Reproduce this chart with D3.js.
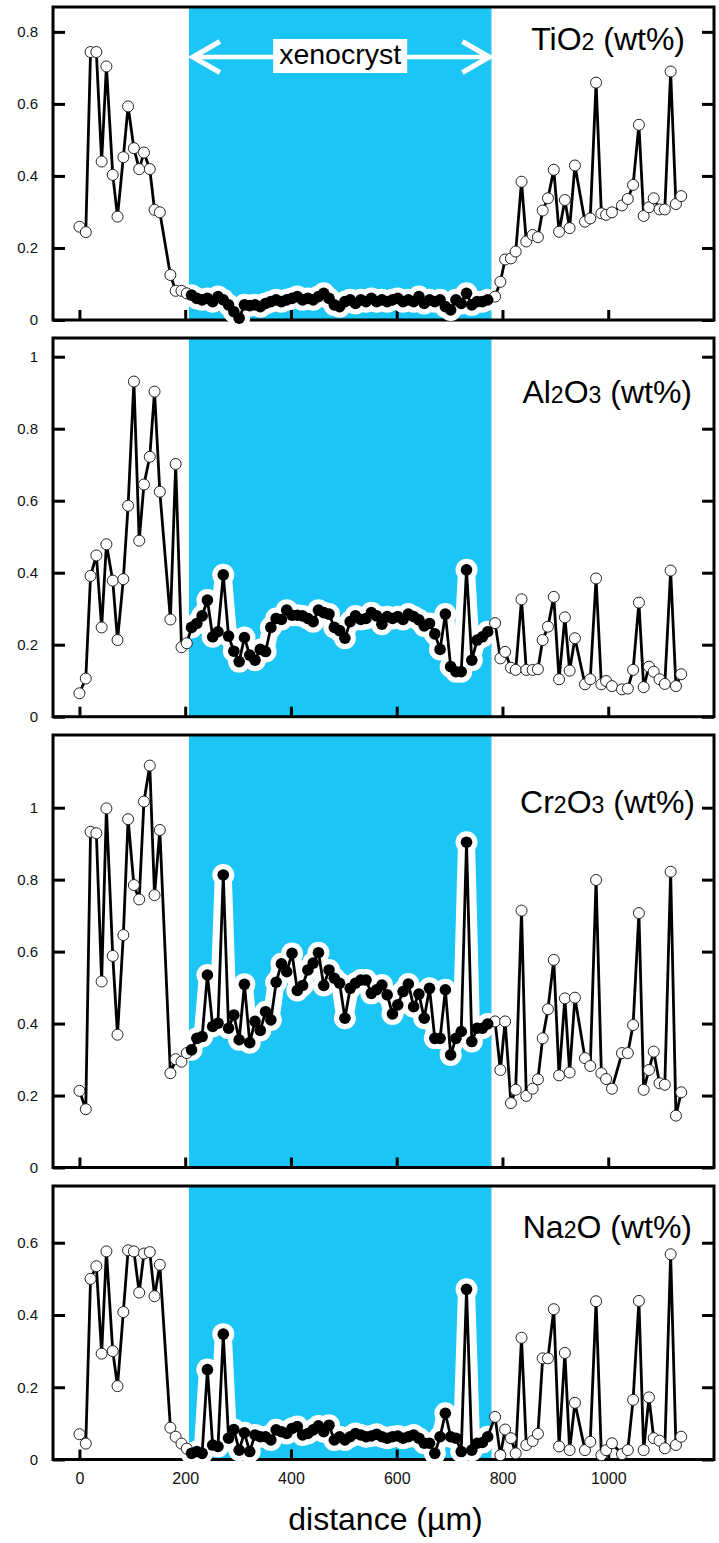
<!DOCTYPE html>
<html>
<head>
<meta charset="utf-8">
<script src="https://cdn.jsdelivr.net/npm/d3@7"></script>
<style>
  html, body { margin: 0; padding: 0; background: #fff; }
  svg { display: block; }
  text { font-family: "Liberation Sans", Arial, Helvetica, sans-serif; }
</style>
</head>
<body>
<svg id="chart" width="719" height="1543"></svg>
<script>
// ---------------- DATA ----------------
const distance = [0,12,21,32,42,51,63,72,83,92,103,113,122,133,142,152,172,182,193,203,
  212,222,232,242,252,262,272,282,292,302,312,322,332,342,352,362,372,382,392,402,412,422,432,442,452,462,472,482,492,502,512,522,532,542,552,562,572,582,592,602,612,622,632,642,652,662,672,682,692,702,712,722,732,742,752,762,772,
  786,796,805,816,825,836,845,857,867,876,886,897,907,918,927,937,956,966,977,987,996,1007,1026,1037,1047,1058,1067,1077,1086,1097,1107,1118,1128,1138];

const tio2 = [0.259,0.244,0.744,0.744,0.44,0.704,0.403,0.287,0.452,0.593,0.477,0.419,0.465,0.419,0.306,0.299,0.125,0.081,0.081,0.074,
  0.069,0.060,0.056,0.060,0.051,0.065,0.056,0.042,0.023,0.005,0.042,0.040,0.042,0.037,0.046,0.051,0.056,0.051,0.056,0.060,0.065,0.056,0.060,0.056,0.065,0.074,0.060,0.042,0.037,0.051,0.056,0.046,0.056,0.051,0.060,0.051,0.056,0.051,0.056,0.060,0.051,0.056,0.051,0.065,0.046,0.056,0.051,0.056,0.037,0.028,0.056,0.046,0.074,0.042,0.051,0.051,0.056,
  0.065,0.106,0.168,0.171,0.19,0.384,0.218,0.236,0.23,0.304,0.338,0.417,0.245,0.333,0.255,0.429,0.273,0.282,0.659,0.296,0.292,0.299,0.318,0.336,0.375,0.542,0.289,0.313,0.338,0.307,0.307,0.69,0.322,0.344];

const al2o3 = [0.065,0.106,0.391,0.448,0.248,0.479,0.378,0.213,0.382,0.586,0.931,0.489,0.645,0.722,0.903,0.625,0.27,0.702,0.193,0.204,
  0.248,0.259,0.28,0.324,0.222,0.236,0.394,0.224,0.182,0.153,0.22,0.171,0.157,0.187,0.181,0.248,0.273,0.27,0.296,0.282,0.282,0.28,0.273,0.264,0.296,0.289,0.285,0.248,0.239,0.218,0.264,0.28,0.27,0.273,0.289,0.28,0.257,0.278,0.273,0.278,0.27,0.285,0.278,0.269,0.252,0.259,0.23,0.187,0.285,0.139,0.125,0.125,0.408,0.157,0.213,0.222,0.236,
  0.26,0.162,0.18,0.136,0.13,0.326,0.13,0.13,0.132,0.213,0.25,0.333,0.104,0.276,0.128,0.218,0.09,0.104,0.384,0.09,0.099,0.085,0.076,0.078,0.13,0.317,0.082,0.139,0.125,0.104,0.091,0.406,0.085,0.118];

const cr2o3 = [0.213,0.162,0.933,0.929,0.517,0.998,0.588,0.369,0.646,0.968,0.785,0.745,1.017,1.117,0.757,0.938,0.262,0.301,0.294,0.318,
  0.327,0.359,0.364,0.535,0.392,0.401,0.813,0.387,0.424,0.355,0.509,0.347,0.406,0.381,0.433,0.41,0.515,0.566,0.544,0.595,0.492,0.506,0.549,0.568,0.597,0.506,0.549,0.526,0.512,0.415,0.498,0.512,0.521,0.521,0.484,0.494,0.507,0.48,0.427,0.452,0.489,0.51,0.447,0.482,0.415,0.498,0.359,0.359,0.494,0.313,0.359,0.378,0.904,0.35,0.387,0.387,0.399,
  0.406,0.271,0.406,0.179,0.216,0.714,0.199,0.219,0.245,0.359,0.44,0.577,0.256,0.47,0.264,0.472,0.304,0.282,0.799,0.262,0.246,0.219,0.318,0.318,0.396,0.707,0.216,0.271,0.322,0.234,0.23,0.822,0.144,0.209];

const na2o = [0.070,0.044,0.50,0.535,0.293,0.576,0.30,0.203,0.408,0.579,0.576,0.462,0.57,0.574,0.452,0.539,0.088,0.063,0.044,0.030,
  0.017,0.022,0.017,0.249,0.04,0.036,0.347,0.059,0.083,0.026,0.074,0.022,0.068,0.063,0.063,0.054,0.082,0.077,0.072,0.086,0.091,0.068,0.072,0.082,0.093,0.077,0.095,0.054,0.063,0.054,0.063,0.072,0.068,0.063,0.065,0.07,0.063,0.059,0.063,0.065,0.059,0.063,0.068,0.059,0.045,0.045,0.017,0.063,0.128,0.063,0.059,0.022,0.471,0.026,0.045,0.047,0.063,
  0.118,0.012,0.083,0.059,0.017,0.337,0.04,0.051,0.071,0.28,0.28,0.416,0.036,0.295,0.026,0.157,0.026,0.049,0.438,0.012,0.026,0.045,0.015,0.026,0.165,0.439,0.026,0.172,0.059,0.052,0.031,0.568,0.04,0.063];

const xenocrystRange = [207, 779];       // µm, shaded band
const xTicks = [0, 200, 400, 600, 800, 1000];
const yTicksTiO2 = [0, 0.2, 0.4, 0.6, 0.8];
const yTicksAl2O3 = [0, 0.2, 0.4, 0.6, 0.8, 1];
const yTicksCr2O3 = [0, 0.2, 0.4, 0.6, 0.8, 1];
const yTicksNa2O = [0, 0.2, 0.4, 0.6];
const titleTiO2 = [["TiO",""],["2","sub"],[" (wt%)",""]];
const titleAl2O3 = [["Al",""],["2","sub"],["O",""],["3","sub"],[" (wt%)",""]];
const titleCr2O3 = [["Cr",""],["2","sub"],["O",""],["3","sub"],[" (wt%)",""]];
const titleNa2O = [["Na",""],["2","sub"],["O (wt%)",""]];
const xLabel = "distance (µm)";
const bandLabel = "xenocryst";

// ---------------- LAYOUT ----------------
const panels = [
  {values: tio2,  ticks: yTicksTiO2,  title: titleTiO2,  top: 7,    bottom: 320,   yMax: 0.869, titleX: 685, titleDy: 42.5},
  {values: al2o3, ticks: yTicksAl2O3, title: titleAl2O3, top: 338,  bottom: 716.7, yMax: 1.052, titleX: 692, titleDy: 65},
  {values: cr2o3, ticks: yTicksCr2O3, title: titleCr2O3, top: 735,  bottom: 1167.5,yMax: 1.202, titleX: 695, titleDy: 78},
  {values: na2o,  ticks: yTicksNa2O,  title: titleNa2O,  top: 1186, bottom: 1459.5,yMax: 0.757, titleX: 692, titleDy: 52}
];
const left = 53, right = 714;
const svg = d3.select("#chart");
const x = d3.scaleLinear().domain([-50, 1200]).range([left, right]);
const BAND = "#1bc6f6";
const fmt = d => (d === 0 ? "0" : String(d));

panels.forEach((p, pi) => {
  const y = d3.scaleLinear().domain([0, p.yMax]).range([p.bottom, p.top]);
  const g = svg.append("g");

  // band
  g.append("rect")
    .attr("x", x(xenocrystRange[0])).attr("y", p.top)
    .attr("width", x(xenocrystRange[1]) - x(xenocrystRange[0]))
    .attr("height", p.bottom - p.top)
    .attr("fill", BAND);
  g.append("line")
    .attr("x1", x(xenocrystRange[1])).attr("x2", x(xenocrystRange[1]))
    .attr("y1", p.top).attr("y2", p.bottom)
    .attr("stroke", "#9ad6ea").attr("stroke-width", 1);

  // frame
  g.append("rect")
    .attr("x", left).attr("y", p.top)
    .attr("width", right - left).attr("height", p.bottom - p.top)
    .attr("fill", "none").attr("stroke", "#000").attr("stroke-width", 3);

  // axes
  const ax = g.append("g").attr("transform", `translate(${left},0)`)
    .call(d3.axisLeft(y).tickValues(p.ticks).tickSize(-12).tickPadding(15).tickFormat(fmt));
  ax.select(".domain").remove();
  ax.selectAll("line").attr("stroke", "#000").attr("stroke-width", 3);
  ax.selectAll("text").attr("font-size", 15).attr("fill", "#111")
    .attr("font-family", "'Liberation Sans', Arial, sans-serif");

  const ar = g.append("g").attr("transform", `translate(${right},0)`)
    .call(d3.axisRight(y).tickValues(p.ticks).tickSize(-12).tickFormat(""));
  ar.select(".domain").remove();
  ar.selectAll("line").attr("stroke", "#000").attr("stroke-width", 3);

  const isLast = pi === panels.length - 1;
  const axb = g.append("g").attr("transform", `translate(0,${p.bottom})`)
    .call(d3.axisBottom(x).tickValues(xTicks).tickSize(-10).tickPadding(13)
      .tickFormat(isLast ? fmt : ""));
  axb.select(".domain").remove();
  axb.selectAll("line").attr("stroke", "#000").attr("stroke-width", 3);
  axb.selectAll("text").attr("font-size", 16).attr("fill", "#111")
    .attr("font-family", "'Liberation Sans', Arial, sans-serif");

  // data
  const pts = distance.map((d, i) => ({d, v: p.values[i],
    inner: d >= xenocrystRange[0] && d <= xenocrystRange[1]}));
  const innerPts = pts.filter(q => q.inner);
  const outerPts = pts.filter(q => !q.inner);
  const line = d3.line().x(q => x(q.d)).y(q => y(q.v));

  // white halo around xenocryst points
  g.append("path").datum(innerPts).attr("d", line)
    .attr("fill", "none").attr("stroke", "#fff").attr("stroke-width", 17)
    .attr("stroke-linejoin", "round").attr("stroke-linecap", "round");
  g.selectAll("circle.halo").data(innerPts).join("circle")
    .attr("class", "halo").attr("cx", q => x(q.d)).attr("cy", q => y(q.v))
    .attr("r", 11).attr("fill", "#fff");

  // black line through all points
  g.append("path").datum(pts).attr("d", line)
    .attr("fill", "none").attr("stroke", "#000").attr("stroke-width", 2.8)
    .attr("stroke-linejoin", "round");

  g.selectAll("circle.open").data(outerPts).join("circle")
    .attr("class", "open").attr("cx", q => x(q.d)).attr("cy", q => y(q.v))
    .attr("r", 5.5).attr("fill", "#fff").attr("stroke", "#222").attr("stroke-width", 1);
  g.selectAll("circle.fill").data(innerPts).join("circle")
    .attr("class", "fill").attr("cx", q => x(q.d)).attr("cy", q => y(q.v))
    .attr("r", 5.8).attr("fill", "#000");

  // title
  const t = g.append("text").attr("x", p.titleX).attr("y", p.top + p.titleDy)
    .attr("text-anchor", "end").attr("font-size", 32).attr("fill", "#000");
  p.title.forEach(([s, kind]) => {
    t.append("tspan").text(s).attr("font-size", kind === "sub" ? 23 : 32);
  });

  // xenocryst arrow + label (top panel)
  if (pi === 0) {
    const ay = 57;
    const xl = x(xenocrystRange[0]) + 4, xr = x(xenocrystRange[1]) - 2;
    const ag = g.append("g").attr("stroke", "#fff").attr("fill", "none")
      .attr("stroke-width", 5);
    ag.append("line").attr("x1", xl + 2).attr("x2", xr - 2).attr("y1", ay).attr("y2", ay)
      .attr("stroke-width", 4.5);
    ag.append("path").attr("d", `M${xl + 27},${ay - 15.5}L${xl},${ay}L${xl + 27},${ay + 15.5}`);
    ag.append("path").attr("d", `M${xr - 27},${ay - 15.5}L${xr},${ay}L${xr - 27},${ay + 15.5}`);
    const cx = (x(xenocrystRange[0]) + x(xenocrystRange[1])) / 2;
    const box = g.append("rect").attr("fill", "#fff");
    const lt = g.append("text").attr("x", cx).attr("y", 63.5).attr("text-anchor", "middle")
      .attr("font-size", 28.5).attr("fill", "#000").text(bandLabel);
    const bb = lt.node().getBBox();
    box.attr("x", bb.x - 6).attr("y", 39).attr("width", bb.width + 12).attr("height", 34);
  }
});

// x-axis title
svg.append("text")
  .attr("x", (left + right) / 2 + 2).attr("y", 1530)
  .attr("text-anchor", "middle").attr("font-size", 32).attr("fill", "#000")
  .text(xLabel);
</script>
</body>
</html>
